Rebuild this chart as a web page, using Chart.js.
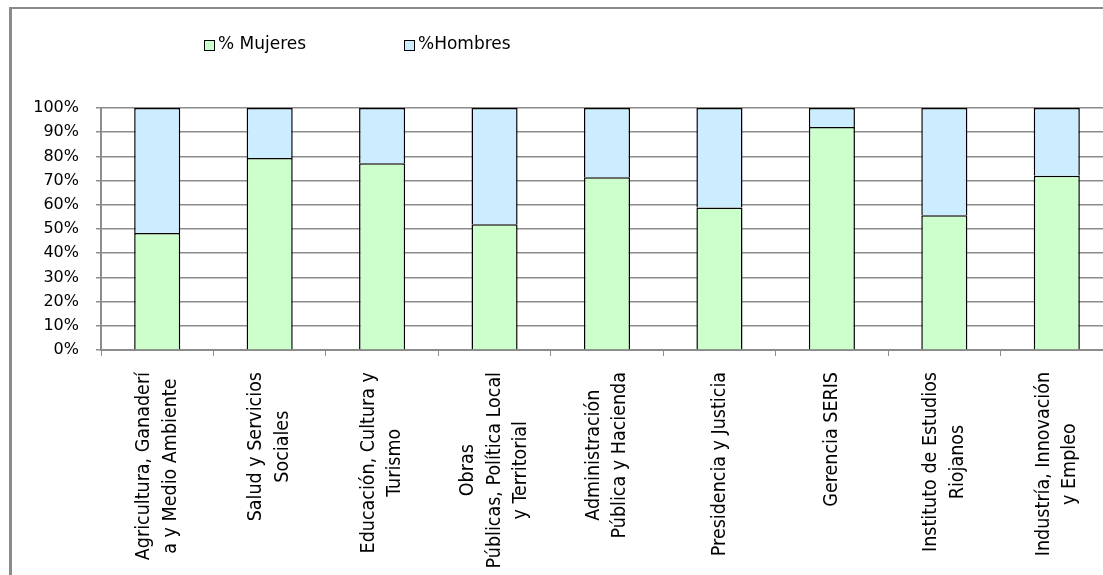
<!DOCTYPE html>
<html>
<head>
<meta charset="utf-8">
<script src="https://cdn.jsdelivr.net/npm/chart.js@4.4.1/dist/chart.umd.min.js"></script>
<style>
    html, body { margin: 0; padding: 0; background: #fff; overflow: hidden; }
    #wrap { position: relative; width: 1103px; height: 575px; overflow: hidden; }
    #frame {
        position: absolute; left: 9px; top: 7px; width: 1200px; height: 700px;
        border-left: 3px solid #8a8a8a; border-top: 2px solid #8a8a8a;
    }
    #chartBox { position: absolute; left: 0; top: 0; width: 1125px; height: 575px; }
</style>
</head>
<body>
<div id="wrap">
    <div id="frame"></div>
    <div id="chartBox"><canvas id="chart" width="1125" height="575"></canvas></div>
</div>
<script>
// Categories (already split in lines as in the original)
const categories = [
    ['Agricultura, Ganaderí', 'a y Medio Ambiente'],
    ['Salud y Servicios', 'Sociales'],
    ['Educación, Cultura y', 'Turismo'],
    ['Obras', 'Públicas, Política Local', 'y Territorial'],
    ['Administración', 'Pública y Hacienda'],
    ['Presidencia y Justicia'],
    ['Gerencia SERIS'],
    ['Instituto de Estudios', 'Riojanos'],
    ['Industría, Innovación', 'y Empleo']
];

// Percentages
const mujeres = [48.3, 79.3, 77.2, 52.0, 71.4, 58.9, 92.1, 55.7, 72.0];
const hombres = [51.7, 20.7, 22.8, 48.0, 28.6, 41.1, 7.9, 44.3, 28.0];

const seriesLabels = ['% Mujeres', '%Hombres'];
const yTickValues = [0, 10, 20, 30, 40, 50, 60, 70, 80, 90, 100];

const GRID = '#8c8c8c';

// Legend drawn at the top, spread like the original
const topLegend = {
    id: 'topLegend',
    afterDraw(chart) {
        const ctx = chart.ctx;
        const xs = [204, 404];
        const y = 45;
        ctx.save();
        ctx.font = '17px "DejaVu Sans"';
        ctx.textBaseline = 'middle';
        ctx.textAlign = 'left';
        chart.data.datasets.forEach((ds, i) => {
            const x = xs[i];
            ctx.fillStyle = ds.backgroundColor;
            ctx.fillRect(x, y - 5, 11, 11);
            ctx.strokeStyle = '#000';
            ctx.lineWidth = 1;
            ctx.strokeRect(x + 0.5, y - 4.5, 10, 10);
            ctx.fillStyle = '#000';
            ctx.fillText(ds.label, x + 14, y);
        });
        ctx.restore();
    }
};

// Rotated category labels, lines centred on each other
const xLabels = {
    id: 'xLabels',
    afterDraw(chart) {
        const scale = chart.scales.x;
        const ctx = chart.ctx;
        const lh = 26.5;
        const top = scale.top + 22;
        ctx.save();
        ctx.font = '19.5px "DejaVu Sans Condensed"';
        ctx.fillStyle = '#000';
        ctx.textAlign = 'center';
        ctx.textBaseline = 'middle';
        chart.data.labels.forEach((lines, i) => {
            const x = scale.getPixelForValue(i);
            const maxW = Math.max(...lines.map(l => ctx.measureText(l).width));
            lines.forEach((line, j) => {
                const off = (j - (lines.length - 1) / 2) * lh;
                ctx.save();
                ctx.translate(x + off, top + maxW / 2);
                ctx.rotate(-Math.PI / 2);
                ctx.fillText(line, 0, 0);
                ctx.restore();
            });
        });
        ctx.restore();
    }
};

new Chart(document.getElementById('chart'), {
    type: 'bar',
    data: {
        labels: categories,
        datasets: [
            {
                label: seriesLabels[0],
                data: mujeres,
                backgroundColor: '#ccffcc',
                borderColor: '#000',
                borderWidth: 1.5
            },
            {
                label: seriesLabels[1],
                data: hombres,
                backgroundColor: '#ccecff',
                borderColor: '#000',
                borderWidth: 1.5
            }
        ]
    },
    options: {
        responsive: false,
        animation: false,
        layout: { padding: { top: 108, right: 12, left: 0, bottom: 0 } },
        datasets: {
            bar: { categoryPercentage: 1, barPercentage: 0.41 }
        },
        plugins: {
            legend: { display: false },
            tooltip: { enabled: false }
        },
        scales: {
            x: {
                stacked: true,
                grid: {
                    offset: true,
                    drawOnChartArea: false,
                    drawTicks: true,
                    tickLength: 6,
                    color: GRID,
                    lineWidth: 1
                },
                border: { color: GRID, width: 2 },
                ticks: { display: false },
                afterFit: scale => { scale.height = 225; }
            },
            y: {
                stacked: true,
                min: 0,
                max: 100,
                afterBuildTicks: scale => {
                    scale.ticks = yTickValues.map(v => ({ value: v }));
                },
                ticks: {
                    callback: v => v + '%',
                    color: '#000',
                    padding: 17,
                    font: { family: 'DejaVu Sans', size: 16 }
                },
                grid: { color: GRID, lineWidth: 1.5, tickLength: 5 },
                border: { color: GRID, width: 2 },
                afterFit: scale => { scale.width = 101; }
            }
        }
    },
    plugins: [topLegend, xLabels]
});
</script>
</body>
</html>
